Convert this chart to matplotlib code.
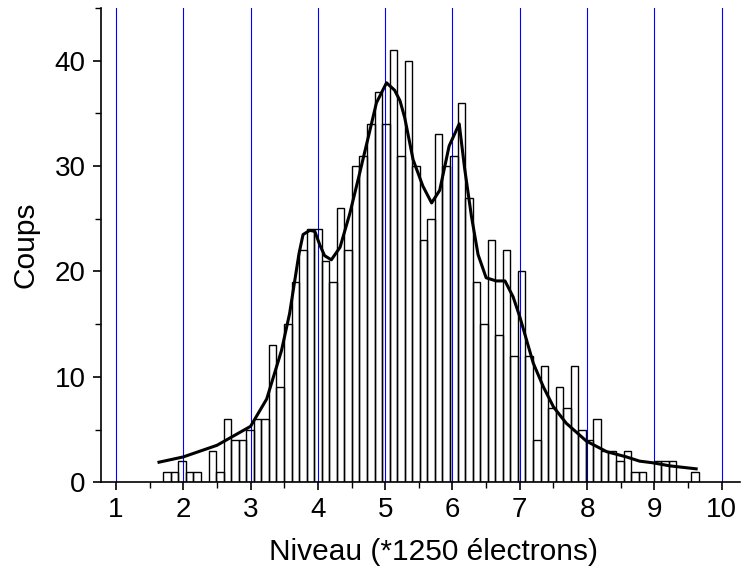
import numpy as np
import matplotlib
matplotlib.use('Agg')
import matplotlib.pyplot as plt
from matplotlib.ticker import MultipleLocator

plt.rcParams['font.family'] = ['Liberation Sans', 'DejaVu Sans']

# histogram: first bin edge, bin width (in units of 1250 electrons) and counts
bin_start = 1.703
bin_width = 0.1121
counts = [1, 1, 2, 1, 1, 0, 3, 1, 6, 4,
          4, 5, 6, 6, 13, 9, 15, 19, 22, 24,
          24, 21, 19, 26, 22, 30, 31, 34, 37, 34,
          41, 31, 40, 30, 23, 25, 33, 30, 31, 36,
          27, 19, 15, 23, 14, 22, 12, 20, 12, 4,
          11, 7, 9, 7, 11, 5, 4, 6, 3, 3,
          2, 3, 1, 1, 0, 2, 2, 2, 0, 0,
          1]

# smoothed curve
curve_x = [1.64, 2.0, 2.5, 3.0, 3.24, 3.46, 3.58, 3.72, 3.78, 3.88,
           3.955, 4.03, 4.10, 4.20, 4.33, 4.475, 4.62, 4.77, 4.87, 5.02,
           5.14, 5.22, 5.29, 5.415, 5.56, 5.69, 5.81, 5.95, 6.10, 6.18,
           6.28, 6.38, 6.50, 6.65, 6.78, 6.90, 7.0, 7.10, 7.20, 7.35,
           7.50, 7.69, 7.99, 8.29, 8.585, 8.78, 8.98, 9.23, 9.62]
curve_y = [1.9, 2.4, 3.5, 5.3, 7.9, 12.5, 16.0, 21.7, 23.5, 23.9,
           23.8, 22.5, 21.5, 21.1, 22.3, 25.5, 29.3, 33.3, 36.0, 37.9,
           37.2, 36.2, 34.6, 30.6, 28.1, 26.5, 27.7, 31.9, 34.0, 29.8,
           25.3, 21.6, 19.4, 19.1, 19.1, 17.6, 15.7, 13.5, 11.3, 9.05,
           7.15, 5.6, 3.9, 2.9, 2.4, 2.0, 1.84, 1.55, 1.27]

fig = plt.figure(figsize=(7.42, 5.70), dpi=100)
ax = fig.add_axes([0.136, 0.154, 0.861, 0.832])

lefts = bin_start + bin_width * np.arange(len(counts))
ax.bar(lefts, counts, width=bin_width, align='edge', facecolor='none',
       edgecolor='black', linewidth=1.0, zorder=2)

# blue vertical grid at every integer level
for gx in range(1, 11):
  ax.axvline(gx, color='#0000ff', linewidth=0.8, zorder=1)

ax.plot(curve_x, curve_y, color='black', linewidth=2.2, zorder=4,
        solid_joinstyle='round')

ax.set_xlim(0.777, 10.268)
ax.set_ylim(0, 45)
ax.xaxis.set_major_locator(MultipleLocator(1))
ax.xaxis.set_minor_locator(MultipleLocator(0.5))
ax.yaxis.set_major_locator(MultipleLocator(10))
ax.yaxis.set_minor_locator(MultipleLocator(5))

for s in ['top', 'right']:
  ax.spines[s].set_visible(False)
for s in ['left', 'bottom']:
  ax.spines[s].set_linewidth(1.2)

ax.tick_params(which='major', direction='out', length=6, width=1.2,
               labelsize=20, pad=5)
ax.tick_params(which='minor', direction='out', length=4, width=1.0)

ax.set_xlabel('Niveau (*1250 électrons)', fontsize=21.5, labelpad=8)
ax.xaxis.set_label_coords(0.521, -0.118)
ax.set_ylabel('Coups', fontsize=21.5, labelpad=11)

fig.savefig('out.png', dpi=100)
